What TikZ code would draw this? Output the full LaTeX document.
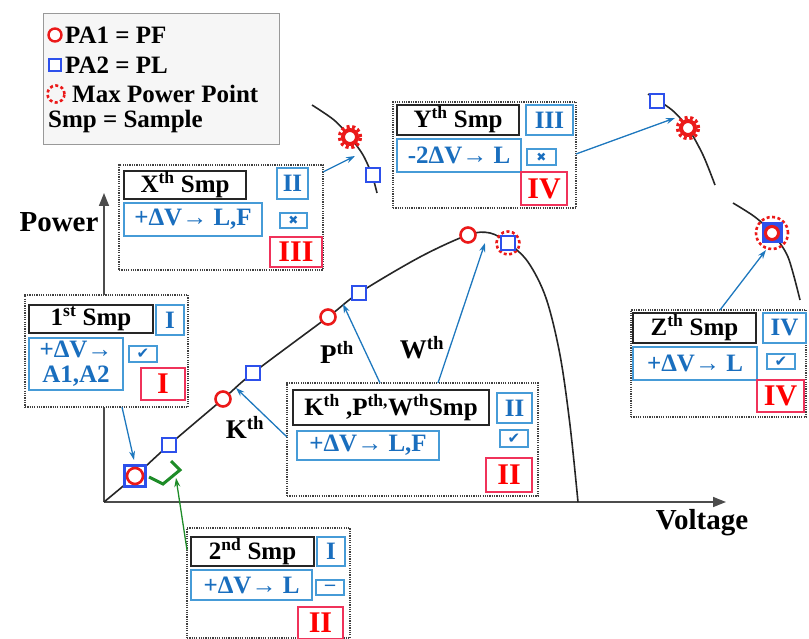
\documentclass[tikz,border=0pt]{standalone}
\usepackage{fontspec}
\setmainfont{Liberation Serif}
\newfontfamily\symfont{DejaVu Sans}
\usetikzlibrary{arrows.meta}
\definecolor{txtblue}{RGB}{25,110,190}
\definecolor{boxblue}{RGB}{70,155,215}
\definecolor{sqblue}{RGB}{45,80,235}
\definecolor{mkred}{RGB}{235,25,25}
\definecolor{boxred}{RGB}{240,50,90}
\definecolor{arrblue}{RGB}{30,120,190}
\definecolor{grn}{RGB}{30,140,40}
\begin{document}
\begin{tikzpicture}[x=1pt,y=-1pt,
  outerbox/.style={draw=black!75, line width=1.7pt, dash pattern=on 1.2pt off 1.1pt, fill=white, inner sep=0},
  titlebox/.style={draw=black!85, line width=1.3pt, fill=white, inner sep=0, font=\fontsize{25}{28}\selectfont\bfseries},
  bluebox/.style={draw=boxblue, line width=1.3pt, fill=white, inner sep=0, text=txtblue, font=\fontsize{25}{26}\selectfont\bfseries, align=center},
  markbox/.style={draw=boxblue, line width=1.3pt, fill=white, inner sep=0, text=txtblue, font=\symfont\fontsize{15}{15}\selectfont\bfseries},
  redbox/.style={draw=boxred, line width=1.3pt, fill=white, inner sep=0, text=red, font=\fontsize{30}{32}\selectfont\bfseries},
  pf/.style={circle, draw=mkred, line width=2.6pt, fill=white, minimum size=15pt, inner sep=0},
  pl/.style={rectangle, draw=sqblue, line width=2.4pt, fill=white, minimum size=14pt, inner sep=0},
  mppring/.style={circle, draw=mkred, line width=2.6pt, dash pattern=on 3pt off 2.5pt, minimum size=#1, inner sep=0},
  gearin/.style={circle, draw=mkred, line width=4pt, fill=white, minimum size=14pt, inner sep=0},
  gearout/.style={circle, draw=mkred, line width=3.5pt, dash pattern=on 3pt off 2.6pt, minimum size=21pt, inner sep=0},
  curve/.style={draw=black!85, line width=1.6pt},
  axis/.style={draw=black!70, line width=1.5pt, -{Triangle[length=13pt,width=10pt]}},
  conn/.style={draw=arrblue, line width=1.3pt, -{Stealth[length=9pt,width=6pt]}},
  lbl/.style={font=\fontsize{29}{30}\selectfont\bfseries, inner sep=0},
  legtxt/.style={font=\fontsize{25}{26}\selectfont\bfseries, inner sep=0, anchor=west}
]
\useasboundingbox (0,0) rectangle (809,639);

% legend
\node[draw=gray!80, line width=1pt, fill=gray!7, minimum width=236pt, minimum height=131pt, inner sep=0] (leg) at (161,79) {};
\node[pf, minimum size=13pt, line width=2.4pt] (legpf) at (55,35) {};
\node[legtxt] (legt1) at (65,35) {PA1 = PF};
\node[pl, minimum size=12pt, line width=2pt] (legpl) at (55,65) {};
\node[legtxt] (legt2) at (65,65) {PA2 = PL};
\node[mppring=17pt] (legmpp) at (56,94) {};
\node[legtxt] (legt3) at (72,94) {Max Power Point};
\node[legtxt] (legt4) at (48,121) {Smp = Sample};

% axes
\coordinate (O) at (104,502);
\coordinate (ytip) at (104,193);
\coordinate (xtip) at (726,502);
\draw[axis] (O) -- (ytip);
\draw[axis] (O) -- (xtip);
\node[lbl] (power) at (59,222) {Power};
\node[lbl] (volt) at (702,523) {Voltage};

% main curve
\draw[curve] plot[smooth, tension=0.55] coordinates {(104,502) (135,476) (169,445) (223,399) (253,373) (328,317) (359,293) (420,257) (468,235) (490,233) (508,243) (528,262) (546,298) (560,355) (570,425) (578,502)};

% curve fragments
\draw[curve] plot[smooth] coordinates {(312,105) (334,120) (350,137) (363,155) (372,175) (377,193)};
\draw[curve] plot[smooth] coordinates {(648,94) (672,110) (688,128) (703,155) (715,185)};
\draw[curve] plot[smooth] coordinates {(733,203) (755,217) (772,233) (788,257) (800,300)};

% markers on main curve
\node[pl, minimum size=21pt, line width=3pt] (s1) at (135,476) {};
\node[pf, minimum size=16pt] (c1) at (135,476) {};
\node[pl] (s2) at (169,445) {};
\node[pf] (c2) at (223,399) {};
\node[pl] (s3) at (253,373) {};
\node[pf] (c3) at (328,317) {};
\node[pl] (s4) at (359,293) {};
\node[pf] (c4) at (468,235) {};
\node[mppring=23pt] (mpp1) at (508,243) {};
\node[pl] (s5) at (508,243) {};

% markers on fragments
\node[gearout] (g1o) at (350,137) {};
\node[gearin] (g1) at (350,137) {};
\node[pl] (s6) at (373,175) {};
\node[pl] (s7) at (657,101) {};
\node[gearout] (g2o) at (688,128) {};
\node[gearin] (g2) at (688,128) {};
\node[mppring=32pt] (mpp2) at (772,233) {};
\node[rectangle, draw=sqblue, fill=sqblue, line width=1pt, minimum size=20pt, inner sep=0] (s8) at (772,233) {};
\node[circle, draw=mkred, line width=3pt, fill=white, minimum size=13pt, inner sep=0] (c8) at (772,233) {};

% green bracket
\draw[draw=grn, line width=3pt, line join=miter] (149,477) -- (163,484) -- (180,470) -- (171,461);
\coordinate (brk) at (176,478);

% labels
\node[lbl, font=\fontsize{27}{28}\selectfont\bfseries] (kl) at (245,427) {K\textsuperscript{th}};
\node[lbl, font=\fontsize{27}{28}\selectfont\bfseries] (pl1) at (337,352) {P\textsuperscript{th}};
\node[lbl, font=\fontsize{27}{28}\selectfont\bfseries] (wl) at (422,348) {W\textsuperscript{th}};

% X box
\node[outerbox, minimum width=204pt, minimum height=105pt] (xo) at (221,217.5) {};
\node[titlebox, minimum width=122pt, minimum height=28pt] (xt) at (185,185) {X\textsuperscript{th} Smp};
\node[bluebox, minimum width=31pt, minimum height=31pt] (xn) at (292.5,183.5) {II};
\node[bluebox, minimum width=138pt, minimum height=33pt] (xa) at (193,219.5) {+ΔV→ L,F};
\node[markbox, minimum width=27pt, minimum height=15pt, font=\symfont\fontsize{12}{12}\selectfont] (xm) at (293.5,220.5) {✖};
\node[redbox, minimum width=52pt, minimum height=30pt] (xr) at (296,252) {III};

% 1st box
\node[outerbox, minimum width=163pt, minimum height=112pt] (fo) at (106.5,351) {};
\node[titlebox, minimum width=124pt, minimum height=28pt] (ft) at (91,319) {1\textsuperscript{st} Smp};
\node[bluebox, minimum width=28pt, minimum height=30pt] (fn) at (170,320) {I};
\node[bluebox, minimum width=94pt, minimum height=52pt, font=\fontsize{25}{25}\selectfont\bfseries] (fa) at (76,364) {+ΔV→\\A1,A2};
\node[markbox, minimum width=28pt, minimum height=16pt] (fm) at (143,354) {✔};
\node[redbox, minimum width=44pt, minimum height=32pt] (fr) at (163,384) {I};

% KPW box
\node[outerbox, minimum width=251pt, minimum height=113pt] (ko) at (412.5,439.5) {};
\node[titlebox, minimum width=196pt, minimum height=35pt] (kt) at (391,407.5) {K\textsuperscript{th} ,P\textsuperscript{th,}W\textsuperscript{th}Smp};
\node[bluebox, minimum width=35pt, minimum height=30pt] (kn) at (514.5,408) {II};
\node[bluebox, minimum width=142pt, minimum height=29pt] (ka) at (368,445.5) {+ΔV→ L,F};
\node[markbox, minimum width=28pt, minimum height=17pt] (km) at (514,438.5) {✔};
\node[redbox, minimum width=46pt, minimum height=34pt] (kr) at (509,475) {II};

% 2nd box
\node[outerbox, minimum width=163pt, minimum height=110pt] (so) at (268.5,583) {};
\node[titlebox, minimum width=123pt, minimum height=29pt] (st) at (252.5,551.5) {2\textsuperscript{nd} Smp};
\node[bluebox, minimum width=28pt, minimum height=29pt] (sn) at (331,551.5) {I};
\node[bluebox, minimum width=121pt, minimum height=30pt] (sa) at (251.5,585) {+ΔV→ L};
\node[markbox, minimum width=28pt, minimum height=15pt, font=\fontsize{20}{20}\selectfont\bfseries] (sm) at (330,587.5) {–};
\node[redbox, minimum width=45pt, minimum height=32pt] (sr) at (320.5,623) {II};

% Y box
\node[outerbox, minimum width=183pt, minimum height=106pt] (yo) at (484.5,155) {};
\node[titlebox, minimum width=122pt, minimum height=30pt] (yt) at (458,120) {Y\textsuperscript{th} Smp};
\node[bluebox, minimum width=47pt, minimum height=30pt] (yn) at (549.5,120) {III};
\node[bluebox, minimum width=124pt, minimum height=33pt] (ya) at (459,155.5) {-2ΔV→ L};
\node[markbox, minimum width=29pt, minimum height=16pt, font=\symfont\fontsize{12}{12}\selectfont] (ym) at (541.5,157) {✖};
\node[redbox, minimum width=46pt, minimum height=33pt] (yr) at (544,188.5) {IV};

% Z box
\node[outerbox, minimum width=175pt, minimum height=107pt] (zo) at (718.5,363.5) {};
\node[titlebox, minimum width=123pt, minimum height=30pt] (zt) at (694.5,328) {Z\textsuperscript{th} Smp};
\node[bluebox, minimum width=43pt, minimum height=30pt] (zn) at (784.5,328) {IV};
\node[bluebox, minimum width=124pt, minimum height=33pt] (za) at (695,363.5) {+ΔV→ L};
\node[markbox, minimum width=28pt, minimum height=15pt] (zm) at (781,361.5) {✔};
\node[redbox, minimum width=47pt, minimum height=32pt] (zr) at (780.5,396) {IV};

% connector end points
\coordinate (xfrom) at (323,172);
\coordinate (xto) at (355,156);
\coordinate (yfrom) at (576,154);
\coordinate (yto) at (675,118);
\coordinate (zfrom) at (720,310);
\coordinate (zto) at (766,250);
\coordinate (ffrom) at (122,407);
\coordinate (fto) at (134,460);
\coordinate (kfrom) at (287,437);
\coordinate (kto) at (236,388);
\coordinate (pfrom) at (380,383);
\coordinate (pto) at (343,304);
\coordinate (wfrom) at (438,383);
\coordinate (wto) at (485,243);
\coordinate (sfrom) at (187,550);

\draw[conn] (xfrom) -- (xto);
\draw[conn] (yfrom) -- (yto);
\draw[conn] (zfrom) -- (zto);
\draw[conn] (ffrom) -- (fto);
\draw[conn] (kfrom) -- (kto);
\draw[conn] (pfrom) -- (pto);
\draw[conn] (wfrom) -- (wto);
\draw[draw=grn, line width=1.3pt, -{Stealth[length=9pt,width=6pt]}] (sfrom) -- (brk);
\end{tikzpicture}
\end{document}
